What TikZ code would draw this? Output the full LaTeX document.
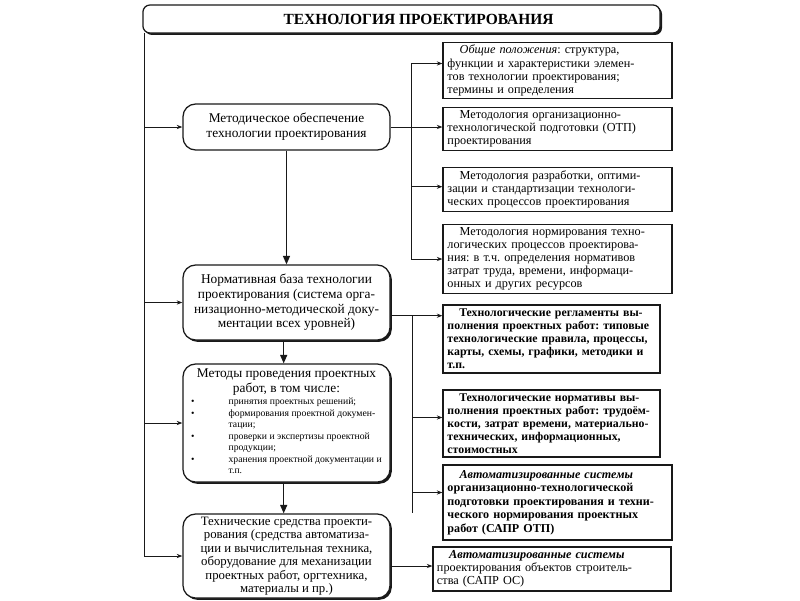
\documentclass[tikz,border=0pt]{standalone}
\usepackage{fontspec}
\setmainfont{Liberation Serif}
\usepackage{tikz}
\usetikzlibrary{arrows.meta,positioning,shadows,calc}
\definecolor{inkBlack}{RGB}{25,25,25}
\frenchspacing

\begin{document}
\begin{tikzpicture}[x=0.025cm,y=-0.025cm,
  head/.style={rectangle,draw=inkBlack,line width=0.9pt,rounded corners=5pt,fill=white,
               drop shadow={shadow xshift=1.4pt,shadow yshift=-1.4pt,fill=inkBlack,opacity=1},
               minimum width=12.925cm,minimum height=0.7cm,
               font=\fontsize{11}{12}\selectfont\bfseries},
  mbox/.style={rectangle,draw=inkBlack,line width=0.9pt,rounded corners=9pt,fill=white,
               minimum width=5.175cm,align=center,inner sep=1.5pt,
               font=\fontsize{9.5}{10.5}\selectfont},
  mboxs/.style={mbox,drop shadow={shadow xshift=1.3pt,shadow yshift=-1.3pt,fill=inkBlack,opacity=1}},
  rbox/.style={rectangle,draw=inkBlack,line width=0.8pt,align=left,inner sep=2pt,
               minimum width=5.725cm,text width=5.5cm,
               font=\fontsize{8.7}{9.3}\selectfont},
  line/.style={draw=inkBlack,line width=0.6pt},
  arr/.style={line,-{Stealth[length=4pt,width=3pt]}},
  down/.style={draw=inkBlack,line width=0.8pt,-{Triangle[length=6pt,width=5pt]}}
]
  \useasboundingbox (0,0) rectangle (800,600);

  \node[head] (title) at (401.5,19) {\hspace*{0.85cm}ТЕХНОЛОГИЯ ПРОЕКТИРОВАНИЯ};

  % left column
  \node[mbox,minimum height=1.15cm] (metod) at (286.5,127)
    {Методическое обеспечение\\технологии проектирования};
  \node[mboxs,minimum height=1.875cm] (normbase) at (286.5,302.5)
    {Нормативная база технологии\\проектирования (система орга-\\низационно-методической доку-\\ментации всех уровней)};
  \node[mboxs,minimum height=2.95cm] (metody) at (286.5,423)
    {Методы проведения проектных\\работ, в том числе:\\
     {\fontsize{6.9}{8.2}\selectfont
      \begin{tabular}{@{}l@{\hspace{0.85cm}}l@{}}
      \textbullet & принятия проектных решений;\\
      \textbullet & формирования проектной докумен-\\
                  & тации;\\
      \textbullet & проверки и экспертизы проектной\\
                  & продукции;\\
      \textbullet & хранения проектной документации и\\
                  & т.п.
      \end{tabular}}};
  \node[mboxs,minimum height=2.1cm,inner sep=1pt,font=\fontsize{9.1}{9.6}\selectfont] (techsr) at (286.5,556)
    {Технические средства проекти-\\рования (средства автоматиза-\\ции и вычислительная техника,\\оборудование для механизации\\проектных работ, оргтехника,\\материалы и пр.)};

  % right column
  \node[rbox,minimum height=1.325cm] (obsh) at (557.5,70.5)
    {\hspace*{1em}\textit{Общие положения}: структура,\\функции и характеристики элемен-\\тов технологии проектирования;\\термины и определения};
  \node[rbox,minimum height=1.05cm] (otp) at (557.5,129)
    {\hspace*{1em}Методология организационно-\\технологической подготовки (ОТП)\\проектирования};
  \node[rbox,minimum height=1.075cm] (optim) at (557.5,189.5)
    {\hspace*{1em}Методология разработки, оптими-\\зации и стандартизации технологи-\\ческих процессов проектирования};
  \node[rbox,minimum height=1.7cm] (normir) at (557.5,259)
    {\hspace*{1em}Методология нормирования техно-\\логических процессов проектирова-\\ния: в т.ч. определения нормативов\\затрат труда, времени, информаци-\\онных и других ресурсов};
  \node[rbox,minimum width=5.425cm,text width=5.2cm,minimum height=1.7cm,
        font=\fontsize{8.4}{9.3}\selectfont\bfseries] (reglam) at (551.5,339)
    {\hspace*{1em}Технологические регламенты вы-\\полнения проектных работ: типовые\\технологические правила, процессы,\\карты, схемы, графики, методики и\\т.п.};
  \node[rbox,minimum width=5.425cm,text width=5.2cm,minimum height=1.675cm,
        font=\fontsize{8.4}{9.3}\selectfont\bfseries] (normat) at (551.5,423.5)
    {\hspace*{1em}Технологические нормативы вы-\\полнения проектных работ: трудоём-\\кости, затрат времени, материально-\\технических, информационных,\\стоимостных};
  \node[rbox,minimum height=1.875cm,font=\fontsize{8.6}{9.6}\selectfont\bfseries] (saprotp) at (557.5,502.5)
    {\hspace*{1em}\textit{Автоматизированные системы}\\организационно-технологической\\подготовки проектирования и техни-\\ческого нормирования проектных\\работ (САПР ОТП)};
  \node[rbox,minimum width=5.95cm,text width=5.75cm,minimum height=1.1cm] (sapros) at (552,569)
    {\hspace*{1em}\textbf{\textit{Автоматизированные системы}}\\проектирования объектов строитель-\\ства (САПР ОС)};

  % left bus
  \coordinate (busL) at ($(title.south west)+(2,-1)$);
  \draw[line] (busL) -- (busL |- techsr.west);
  \draw[arr] (busL |- metod.west) -- (metod.west);
  \draw[arr] (busL |- normbase.west) -- (normbase.west);
  \draw[arr] (busL |- metody.west) -- (metody.west);
  \draw[arr] (busL |- techsr.west) -- (techsr.west);

  % down arrows
  \draw[down] (metod.south) -- (normbase.north);
  \draw[down] ([xshift=-2pt]normbase.south) -- ([xshift=-2pt]metody.north);
  \draw[down] ([xshift=-2pt]metody.south) -- ([xshift=-2pt]techsr.north);

  % right bus from metod
  \coordinate (busA) at (411,0);
  \draw[arr] (metod.east) -- (metod.east -| otp.west);
  \draw[line] (busA |- obsh.west) ++(0,-7) -- (busA |- normir.west);
  \draw[arr] ([yshift=5pt]obsh.west -| busA) -- ([yshift=5pt]obsh.west);
  \draw[arr] ([yshift=2pt]optim.west -| busA) -- ([yshift=2pt]optim.west);
  \draw[arr] (normir.west -| busA) -- (normir.west);

  % right bus from normbase
  \coordinate (busB) at (412,0);
  \draw[arr] ([yshift=-0.33cm]normbase.east) -- ([yshift=-0.33cm]normbase.east -| reglam.west);
  \draw[line] ([yshift=-0.33cm]normbase.east -| busB) -- ([yshift=-0.25cm]saprotp.west -| busB);
  \draw[arr] ([yshift=0.15cm]normat.west -| busB) -- ([yshift=0.15cm]normat.west);
  \draw[arr] ([yshift=0.25cm]saprotp.west -| busB) -- ([yshift=0.25cm]saprotp.west);

  \draw[arr] ([yshift=-0.25cm]techsr.east) -- ([yshift=-0.25cm]techsr.east -| sapros.west);
\end{tikzpicture}
\end{document}
